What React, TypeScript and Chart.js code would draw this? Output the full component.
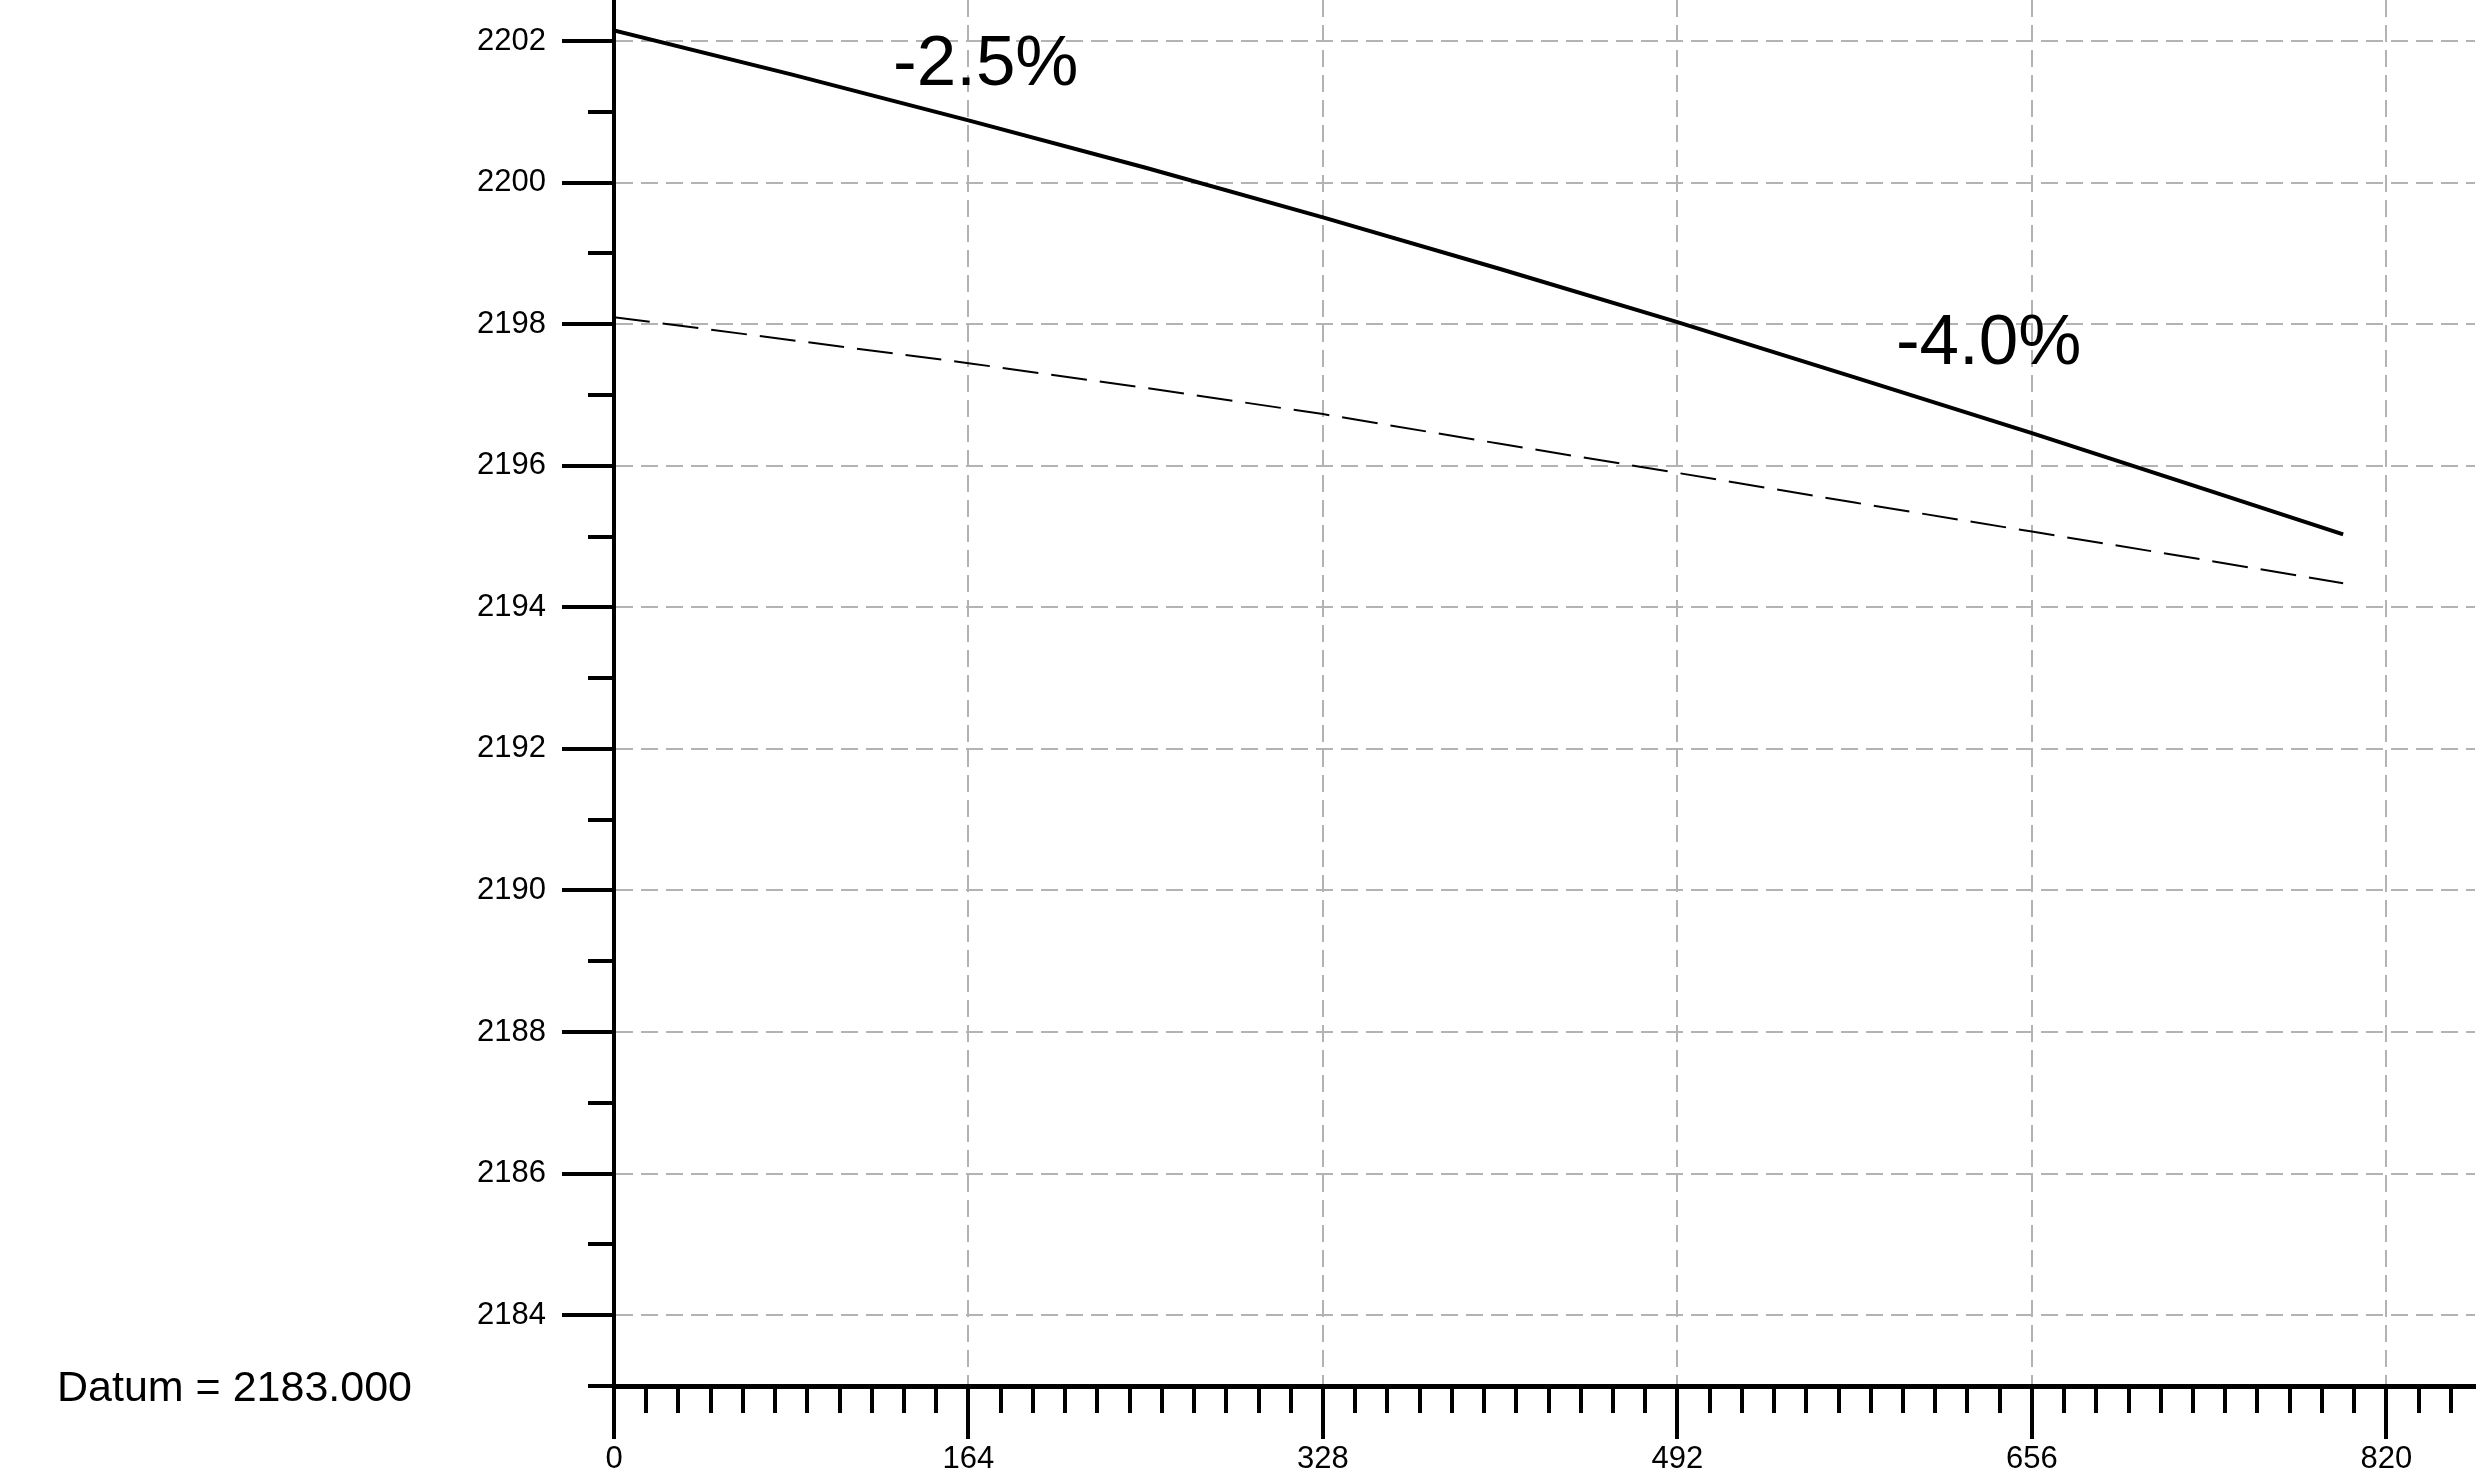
import React, { useEffect, useRef } from 'react';
import { Chart, registerables } from 'chart.js';

Chart.register(...registerables);

// ---- data ----
const DATUM = 2183;
const DESIGN_STATIONS = [0, 82, 164, 246, 328, 410, 492, 574, 656, 738, 800];
const DESIGN_ELEVATIONS = [2202.15, 2201.53, 2200.88, 2200.21, 2199.51, 2198.78, 2198.03, 2197.25, 2196.46, 2195.65, 2195.03];
const GROUND_STATIONS = [0, 164, 246, 328, 410, 492, 574, 656, 738, 800];
const GROUND_ELEVATIONS = [2198.1, 2197.45, 2197.1, 2196.73, 2196.31, 2195.9, 2195.48, 2195.07, 2194.66, 2194.34];
const X_TICKS = [0, 164, 328, 492, 656, 820];
const X_MINOR_PER_MAJOR = 11;
const Y_TICKS = [2184, 2186, 2188, 2190, 2192, 2194, 2196, 2198, 2200, 2202];
const Y_MINOR_STEP = 1;
const X_MIN = 0;
const X_MAX = 861;
const Y_MIN = 2183;
const Y_MAX = 2202.58;
const GRADE_LABELS = ['-2.5%', '-4.0%'];
const GRADE_LABEL_STATIONS = [172, 636];
const GRADE_LABEL_ELEVATIONS = [2201.66, 2197.71];

const FONT = '"Liberation Sans", Arial, Helvetica, sans-serif';
const GRID_COLOR = '#b3b3b3';
const SOLID = [400, 0];

const zeroPad = (s: any) => {
  s.paddingTop = 0;
  s.paddingBottom = 0;
  s.paddingLeft = 0;
  s.paddingRight = 0;
};

const xMinorTicks = () => {
  const step = X_TICKS[1] / X_MINOR_PER_MAJOR;
  const out: { value: number }[] = [];
  for (let k = 0; k * step <= X_MAX + 1e-9; k++) out.push({ value: k * step });
  return out;
};

const yMinorTicks = () => {
  const out: { value: number }[] = [];
  for (let v = Y_MIN; v <= Y_MAX + 1e-9; v += Y_MINOR_STEP) out.push({ value: v });
  return out;
};

const textPlugin = {
  id: 'profileText',
  afterDatasetsDraw(chart: any) {
    const { ctx } = chart;
    const x = chart.scales.x;
    const y = chart.scales.y;
    ctx.save();
    ctx.fillStyle = '#000';
    ctx.font = `71px ${FONT}`;
    ctx.textAlign = 'center';
    ctx.textBaseline = 'middle';
    GRADE_LABELS.forEach((t, i) => {
      ctx.fillText(t, x.getPixelForValue(GRADE_LABEL_STATIONS[i]), y.getPixelForValue(GRADE_LABEL_ELEVATIONS[i]));
    });
    ctx.font = `43px ${FONT}`;
    ctx.textAlign = 'left';
    ctx.fillText(`Datum = ${DATUM.toFixed(3)}`, 57, y.getPixelForValue(DATUM) + 3);
    ctx.restore();
  },
};

export default function App() {
  const ref = useRef<HTMLCanvasElement | null>(null);

  useEffect(() => {
    if (!ref.current) return;
    const design = DESIGN_STATIONS.map((s, i) => ({ x: s, y: DESIGN_ELEVATIONS[i] }));
    const ground = GROUND_STATIONS.map((s, i) => ({ x: s, y: GROUND_ELEVATIONS[i] }));

    const chart = new Chart(ref.current, {
      type: 'scatter',
      data: {
        datasets: [
          {
            label: 'Ground',
            data: ground,
            showLine: true,
            borderColor: '#000',
            borderWidth: 2,
            borderDash: [36, 13],
            pointRadius: 0,
            tension: 0,
            xAxisID: 'x',
            yAxisID: 'y',
          },
          {
            label: 'Design',
            data: design,
            showLine: true,
            borderColor: '#000',
            borderWidth: 4,
            pointRadius: 0,
            tension: 0,
            xAxisID: 'x',
            yAxisID: 'y',
          },
        ],
      },
      options: {
        responsive: false,
        maintainAspectRatio: false,
        animation: false,
        devicePixelRatio: 1,
        layout: { padding: { left: 0, top: 0, right: 7, bottom: 0 } },
        plugins: {
          legend: { display: false },
          tooltip: { enabled: false },
          title: { display: false },
        },
        scales: {
          x: {
            type: 'linear',
            position: 'bottom',
            weight: 1,
            min: X_MIN,
            max: X_MAX,
            afterBuildTicks: (s: any) => {
              s.ticks = X_TICKS.map((v) => ({ value: v }));
            },
            afterFit: (s: any) => {
              s.height = 93;
              zeroPad(s);
            },
            ticks: {
              padding: 2,
              autoSkip: false,
              maxRotation: 0,
              color: '#000',
              font: { family: FONT, size: 31 },
              callback: (v: any) => String(v),
            },
            grid: {
              display: true,
              drawOnChartArea: true,
              drawTicks: true,
              color: GRID_COLOR,
              lineWidth: 2,
              tickLength: 53,
              tickWidth: 4,
              tickColor: '#000',
              tickBorderDash: SOLID,
            },
            border: { display: true, color: '#000', width: 5, dash: [17, 8] },
          },
          xMinor: {
            type: 'linear',
            position: 'bottom',
            weight: 0,
            min: X_MIN,
            max: X_MAX,
            afterBuildTicks: (s: any) => {
              s.ticks = xMinorTicks();
            },
            afterFit: (s: any) => {
              s.height = 0;
              zeroPad(s);
            },
            ticks: { display: false, autoSkip: false },
            grid: {
              display: true,
              drawOnChartArea: false,
              drawTicks: true,
              lineWidth: 2,
              tickLength: 27,
              tickWidth: 4,
              tickColor: '#000',
              tickBorderDash: SOLID,
            },
            border: { display: false },
          },
          y: {
            type: 'linear',
            position: 'left',
            weight: 1,
            min: Y_MIN,
            max: Y_MAX,
            afterBuildTicks: (s: any) => {
              s.ticks = Y_TICKS.map((v) => ({ value: v }));
            },
            afterFit: (s: any) => {
              s.width = 614;
              zeroPad(s);
            },
            ticks: {
              padding: 16,
              autoSkip: false,
              color: '#000',
              font: { family: FONT, size: 31 },
              callback: (v: any) => String(v),
            },
            grid: {
              display: true,
              drawOnChartArea: true,
              drawTicks: true,
              color: GRID_COLOR,
              lineWidth: 2,
              tickLength: 52,
              tickWidth: 4,
              tickColor: '#000',
              tickBorderDash: SOLID,
            },
            border: { display: true, color: '#000', width: 4, dash: [17, 8] },
          },
          yMinor: {
            type: 'linear',
            position: 'left',
            weight: 0,
            min: Y_MIN,
            max: Y_MAX,
            afterBuildTicks: (s: any) => {
              s.ticks = yMinorTicks();
            },
            afterFit: (s: any) => {
              s.width = 0;
              zeroPad(s);
            },
            ticks: { display: false, autoSkip: false },
            grid: {
              display: true,
              drawOnChartArea: false,
              drawTicks: true,
              lineWidth: 2,
              tickLength: 26,
              tickWidth: 4,
              tickColor: '#000',
              tickBorderDash: SOLID,
            },
            border: { display: false },
          },
        },
      } as any,
      plugins: [textPlugin],
    });

    return () => chart.destroy();
  }, []);

  return (
    <div style={{ position: 'fixed', left: 0, top: 0, width: 2482, height: 1479, background: '#fff' }}>
      <canvas ref={ref} width={2482} height={1479} style={{ display: 'block', width: 2482, height: 1479 }} />
    </div>
  );
}
